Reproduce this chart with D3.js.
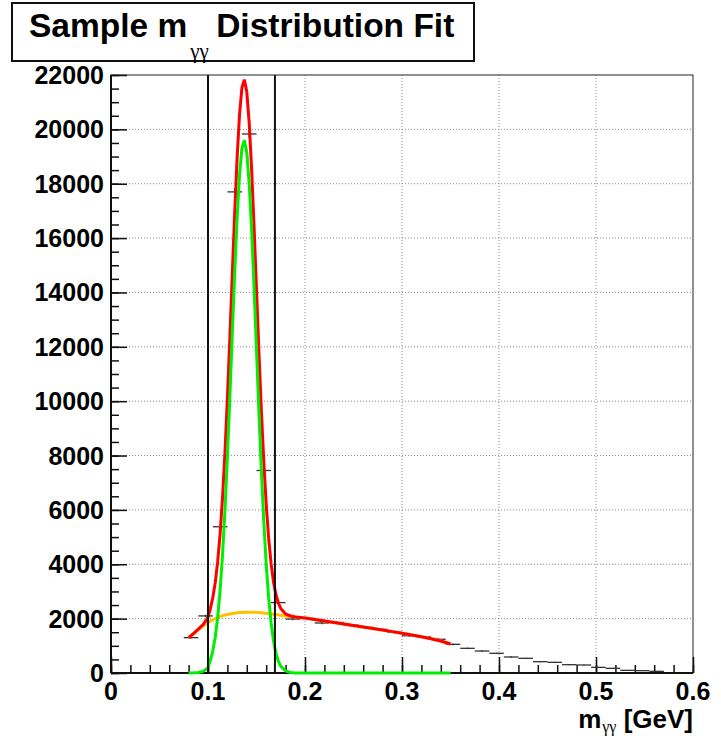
<!DOCTYPE html>
<html>
<head>
<meta charset="utf-8">
<script src="https://cdn.jsdelivr.net/npm/d3@7"></script>
<style>
  html, body { margin: 0; padding: 0; background: #fff; }
  svg { display: block; }
</style>
</head>
<body>
<svg id="chart" width="721" height="736"></svg>
<script>
// ---------------- DATA ----------------
const binWidth = 0.015;
const binLow = [0.075, 0.09, 0.105, 0.12, 0.135, 0.15, 0.165, 0.18, 0.195, 0.21,
  0.225, 0.24, 0.255, 0.27, 0.285, 0.30, 0.315, 0.33, 0.345, 0.36,
  0.375, 0.39, 0.405, 0.42, 0.435, 0.45, 0.465, 0.48, 0.495, 0.51,
  0.525, 0.54, 0.555];
const counts = [1300, 2100, 5380, 17700, 19830, 7450, 2590, 1985, 2010, 1840,
  1860, 1765, 1680, 1605, 1495, 1370, 1325, 1240, 1055, 908,
  809, 724, 589, 540, 417, 392, 306, 294, 208, 172,
  98, 86, 61];

const fitX = [0.080, 0.085, 0.090, 0.095, 0.100, 0.1025, 0.105, 0.1075, 0.110, 0.1125,
  0.115, 0.1175, 0.120, 0.1225, 0.125, 0.1275, 0.130, 0.1325, 0.135, 0.1375,
  0.140, 0.1425, 0.145, 0.1475, 0.150, 0.1525, 0.155, 0.1575, 0.160, 0.1625,
  0.165, 0.1675, 0.170, 0.1725, 0.175, 0.180, 0.185, 0.190, 0.195, 0.200,
  0.210, 0.220, 0.230, 0.240, 0.250, 0.260, 0.270, 0.280, 0.290, 0.300,
  0.310, 0.320, 0.330, 0.340, 0.350];
const signalY = [1, 5, 22, 60, 200, 470, 828, 1328, 2051, 3047,
  4355, 5996, 7946, 10136, 12446, 14708, 16733, 18322, 19312, 19598,
  19137, 17991, 16278, 14178, 11888, 9594, 7454, 5574, 4012, 2779,
  1853, 1190, 735, 437, 250, 73, 18, 4, 1, 0,
  0, 0, 0, 0, 0, 0, 0, 0, 0, 0,
  0, 0, 0, 0, 0];
const backgroundY = [1290, 1445, 1590, 1725, 1850, 1910, 1960, 2005, 2045, 2080,
  2110, 2135, 2155, 2172, 2188, 2202, 2213, 2222, 2229, 2234,
  2237, 2238, 2237, 2234, 2230, 2225, 2218, 2210, 2200, 2190,
  2178, 2165, 2152, 2138, 2124, 2100, 2080, 2060, 2040, 2020,
  1970, 1912, 1855, 1800, 1745, 1690, 1635, 1580, 1522, 1462,
  1400, 1335, 1262, 1175, 1065];

const windowEdges = [0.1, 0.169];
const xTicks = [0, 0.1, 0.2, 0.3, 0.4, 0.5, 0.6];
const yTicks = [0, 2000, 4000, 6000, 8000, 10000, 12000, 14000, 16000, 18000, 20000, 22000];

// ---------------- LAYOUT ----------------
const svg = d3.select("#chart");
const L = 111, R = 693, T = 75, B = 673;
const x = d3.scaleLinear().domain([0, 0.6]).range([L, R]);
const y = d3.scaleLinear().domain([0, 22000]).range([B, T]);
const font = "'Liberation Sans', Arial, Helvetica, sans-serif";
const serif = "'Liberation Serif', 'Times New Roman', serif";

// grid
const grid = svg.append("g").attr("stroke", "#8a8a8a").attr("stroke-width", 1)
  .attr("stroke-dasharray", "1,2");
xTicks.filter(t => t > 0 && t < 0.6).forEach(t => {
  grid.append("line").attr("x1", x(t)).attr("x2", x(t)).attr("y1", T).attr("y2", B);
});
yTicks.filter(t => t > 0 && t < 22000).forEach(t => {
  grid.append("line").attr("x1", L).attr("x2", R).attr("y1", y(t)).attr("y2", y(t));
});

// frame (top/right)
svg.append("rect").attr("x", L).attr("y", T).attr("width", R - L).attr("height", B - T)
  .attr("fill", "none").attr("stroke", "#222").attr("stroke-width", 1);

// Axes with ROOT-like inward ticks
const xAxisMajor = d3.axisTop(x).tickValues(xTicks).tickSize(16).tickFormat("");
const xAxisMinor = d3.axisTop(x).tickValues(d3.range(0, 0.6001, 0.02)).tickSize(8).tickFormat("");
const gx1 = svg.append("g").attr("transform", `translate(0,${B})`).call(xAxisMinor);
const gx2 = svg.append("g").attr("transform", `translate(0,${B})`).call(xAxisMajor);
[gx1, gx2].forEach(g => {
  g.select(".domain").remove();
  g.selectAll(".tick line").attr("stroke", "#111").attr("stroke-width", 1.5);
});
const yAxisMajor = d3.axisRight(y).tickValues(yTicks).tickSize(16).tickFormat("");
const yAxisMinor = d3.axisRight(y).tickValues(d3.range(0, 22001, 500)).tickSize(8).tickFormat("");
const gy1 = svg.append("g").attr("transform", `translate(${L},0)`).call(yAxisMinor);
const gy2 = svg.append("g").attr("transform", `translate(${L},0)`).call(yAxisMajor);
[gy1, gy2].forEach(g => {
  g.select(".domain").remove();
  g.selectAll(".tick line").attr("stroke", "#111").attr("stroke-width", 1.5);
});
// axis lines
svg.append("line").attr("x1", L).attr("x2", R).attr("y1", B).attr("y2", B)
  .attr("stroke", "#111").attr("stroke-width", 2);
svg.append("line").attr("x1", L).attr("x2", L).attr("y1", T).attr("y2", B)
  .attr("stroke", "#111").attr("stroke-width", 2);

// tick labels
svg.append("g").selectAll("text").data(xTicks).join("text")
  .attr("x", d => x(d)).attr("y", B + 27)
  .attr("text-anchor", "middle")
  .attr("font-family", font).attr("font-weight", "bold").attr("font-size", 25)
  .text(d => d === 0 ? "0" : d3.format(".1f")(d));
svg.append("g").selectAll("text").data(yTicks).join("text")
  .attr("x", 104).attr("y", d => y(d) + 9)
  .attr("text-anchor", "end")
  .attr("font-family", font).attr("font-weight", "bold").attr("font-size", 25)
  .text(d => String(d));

// histogram (E style)
const hist = svg.append("g").attr("stroke", "#333").attr("stroke-width", 1.3);
binLow.forEach((lo, i) => {
  const c = counts[i];
  hist.append("line").attr("x1", x(lo)).attr("x2", x(lo + binWidth))
    .attr("y1", y(c)).attr("y2", y(c));
  const e = Math.sqrt(c);
  hist.append("line").attr("x1", x(lo + binWidth / 2)).attr("x2", x(lo + binWidth / 2))
    .attr("y1", y(c - e)).attr("y2", y(c + e));
});

// fit curves
const totalY = signalY.map((s, i) => s + backgroundY[i]);
const lineGen = (ys) => d3.line().x((d, i) => x(fitX[i])).y((d, i) => y(ys[i]))(fitX);
svg.append("path").attr("d", lineGen(backgroundY)).attr("fill", "none")
  .attr("stroke", "#ffc000").attr("stroke-width", 3);
svg.append("path").attr("d", lineGen(totalY)).attr("fill", "none")
  .attr("stroke", "#ff0000").attr("stroke-width", 3);
svg.append("path").attr("d", lineGen(signalY)).attr("fill", "none")
  .attr("stroke", "#00ee00").attr("stroke-width", 3);

// signal window lines
svg.append("g").selectAll("line").data(windowEdges).join("line")
  .attr("x1", d => x(d)).attr("x2", d => x(d)).attr("y1", y(0)).attr("y2", y(22000))
  .attr("stroke", "#111").attr("stroke-width", 2);

// title box
svg.append("rect").attr("x", 12).attr("y", 3).attr("width", 462).attr("height", 58)
  .attr("fill", "#fff").attr("stroke", "#111").attr("stroke-width", 2);
const title = svg.append("text").attr("x", 29).attr("y", 37)
  .attr("font-family", font).attr("font-weight", "bold").attr("font-size", 33.5);
title.append("tspan").text("Sample m");
title.append("tspan").attr("dx", 3).attr("dy", 21).attr("font-family", serif)
  .attr("font-weight", "normal").attr("font-size", 21).text("γγ");
title.append("tspan").attr("dx", -2).attr("dy", -21).text(" Distribution Fit");

// x-axis title
const xt = svg.append("text").attr("x", R).attr("y", 728).attr("text-anchor", "end")
  .attr("font-family", font).attr("font-weight", "bold").attr("font-size", 26);
xt.append("tspan").text("m");
xt.append("tspan").attr("dx", 1).attr("dy", 4).attr("font-family", serif)
  .attr("font-weight", "normal").attr("font-size", 16).text("γγ");
xt.append("tspan").attr("dy", -4).text(" [GeV]");
</script>
</body>
</html>
